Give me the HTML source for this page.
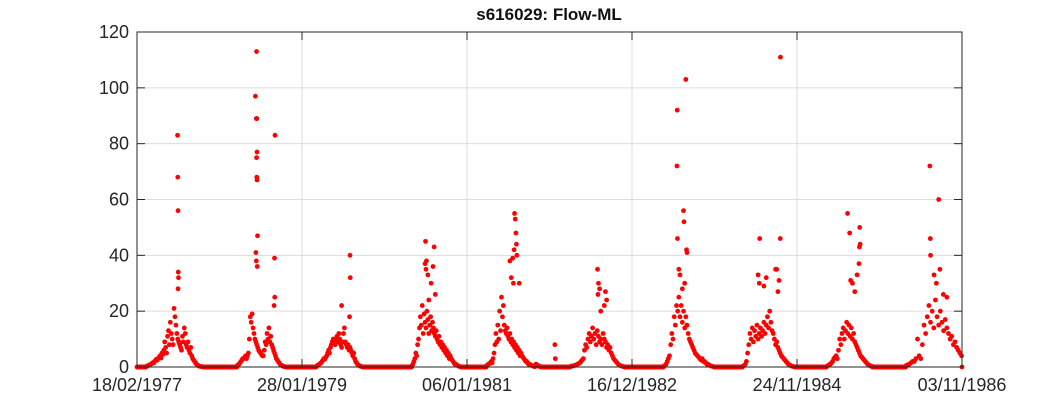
<!DOCTYPE html>
<html><head><meta charset="utf-8"><style>
body{margin:0;background:#fff;}
svg{display:block;font-family:"Liberation Sans",Arial,sans-serif;}
</style></head><body>
<svg id="chart" width="1063" height="413">
<rect width="1063" height="413" fill="#fff"/>
<g id="grid"></g>
<g id="marks"></g>
<g id="axes"></g>
<text x="549" y="20" text-anchor="middle" font-size="17" font-weight="bold" fill="#111">s616029: Flow-ML</text>
</svg>
<script>
const xTickLabels=["18/02/1977","28/01/1979","06/01/1981","16/12/1982","24/11/1984","03/11/1986"];
const xTickDays=[0,708,1416,2124,2832,3540];
const yTicks=[0,20,40,60,80,100,120];
const seasonStarts=[39,430,770,1180,1500,1860,2260,2600,2960,3300];
const seasonSteps=[4,4,4,4,4,5,5,5,5,7];
const s1=[0.2,0.3,0.5,0.6,0.8,1,1.2,1.5,1.4,2,2.2,2.8,2.5,3,3.5,4,3.2,5,4.5,6,9,7,5,11,13,8,16,12,10,8,21,18,15,12,10,9,8,7,6,11,9,14,12,8,7,9,6,5,7,4,3,2.5,2,1.5,1,0.8,0.5,0.3,0.2,0.2,0.1,0.1];
const s2=[0.5,0.8,1,1.5,2,2.5,3,3,3.5,4,3,4,5,10,18,16,19,14,12,10,9,8,7,6,5.5,5,4.5,4,4,6,9,8,12,10,14,9,11,8,7,6,5,4,3,2.5,2,1.5,1,0.7,0.5,0.3,0.2,0.1,0.1];
const s3=[0.3,0.5,0.7,1,1.2,1.5,2,2.5,3,2.8,3.5,4,5,6,5,7,8,9,10,9,8,10,11,9,12,10,8,7,9,12,14,9,8,7,8,6,7,6,5,4,5,3,2,1.5,1,0.7,0.5,0.3,0.2,0.1];
const s4=[0.5,1,2,3,5,4,8,10,14,18,15,22,12,19,16,14,20,17,12,15,18,13,16,14,12,11,13,10,9,11,8,9,7,8,6,7,5,6,4,5,3,4,3,2.5,2,1.5,1,1,0.8,0.5,0.3,0.2,0.1];
const s5=[0.5,0.7,1,1.2,1.5,2,1.5,3,5,8,12,9,15,10,20,13,25,18,22,15,13,12,14,11,10,12,9,10,8,9,7,8,6,7,5,6,4,5,4,3.5,3,2.5,2,2,1.5,1,1,0.8,0.6,0.5,0.3,0.2,0.1,1,0.8,0.5,0.3,0.2,0.1];
const s6=[0.2,0.3,0.4,0.5,0.6,0.8,1,1.2,1.5,2,2.5,3,6,8,7,10,12,9,11,14,10,12,8,13,11,9,10,8,12,10,9,7,8,6,7,5,4,3,2.5,2,1.5,1,0.7,0.5,0.3,0.2,0.1];
const s7=[0.3,0.5,1,2,3,4,8,12,10,18,15,22,20,25,18,22,16,20,14,18,15,12,10,9,8,7,6,5,4.5,4,3.5,3,2.5,3,2,2,1.5,1,1,0.7,0.5,0.3,0.2,0.1];
const s8=[0.3,0.5,1,2,5,8,12,10,14,9,13,11,15,10,12,14,11,13,16,12,15,18,14,20,16,13,12,10,8,9,7,6,5,4,3.5,3,2.5,2,1.5,1,0.8,0.5,0.3,0.2,0.1];
const s9=[0.3,0.5,0.8,1,1.5,2,3,3.5,4,3,6,10,8,12,14,10,13,16,12,15,11,14,10,12,9,8,7,6,5,4,3.5,3,2.5,2,1.5,1,0.7,0.5,0.3,0.2];
const s10=[0.5,0.8,1,1.5,2,2,3,10,4,3,8,15,12,18,22,16,20,14,24,18,15,20,16,13,17,14,12,10,11,8,9,7,6,5,4];
const seasonValues=[s1,s2,s3,s4,s5,s6,s7,s8,s9,s10];
const spikeDays=[174,175,176,177,178,176,513,508,512,514,515,513,514,515,510,512,517,516,592,590,591,588,914,915,878,912,1238,1236,1242,1240,1248,1275,1270,1262,1280,1252,1620,1623,1626,1628,1612,1618,1630,1606,1640,1600,1615,1793,1795,1976,1980,1985,1978,2010,2015,2005,1990,2318,2317,2319,2355,2345,2347,2358,2360,2325,2330,2350,2340,2761,2760,2672,2740,2745,2665,2670,2700,2690,2755,2750,3049,3058,3101,3100,3103,3098,3090,3070,3062,3080,3402,3440,3404,3405,3445,3420,3430,3460,3475];
const spikeVals=[83,68,56,34,32,28,113,97,89,89,77,75,68,67,41,38,47,36,83,39,25,22,40,32,22,18,45,37,38,35,33,43,36,30,26,24,55,53,48,44,39,42,40,32,30,38,30,8,3,35,30,28,26,27,24,22,20,92,72,46,103,56,52,42,41,35,33,30,28,111,46,46,35,35,33,30,32,29,31,27,55,48,50,43,44,37,33,30,31,27,72,60,46,40,35,33,30,26,25];

const NS="http://www.w3.org/2000/svg";
const X0=137,X1=962,Y0=367,Y1=32;
const xs=d=>X0+(d-0)/(3540)*(X1-X0);
const ys=v=>Y0-v/120*(Y0-Y1);
function mk(tag,attrs,parent){const e=document.createElementNS(NS,tag);for(const k in attrs)e.setAttribute(k,attrs[k]);parent.appendChild(e);return e;}
const grid=document.getElementById('grid'),marks=document.getElementById('marks'),axes=document.getElementById('axes');
xTickDays.forEach((d,i)=>{
  const g=mk('line',{x1:xs(d),x2:xs(d),y1:Y1,y2:Y0,stroke:'#dcdcdc','stroke-width':1},grid);
  
  
  const t=mk('line',{x1:xs(d),x2:xs(d),y1:Y0,y2:Y0-8,stroke:'#262626','stroke-width':1},axes);
  
  
  const t2=mk('line',{x1:xs(d),x2:xs(d),y1:Y1,y2:Y1+8,stroke:'#262626','stroke-width':1},axes);
  
  
  const l=mk('text',{x:xs(d),y:Y0+24,'text-anchor':'middle','font-size':18,fill:'#262626'},axes);
  l.textContent=xTickLabels[i];
  
  
});
yTicks.forEach(v=>{
  const g=mk('line',{x1:X0,x2:X1,y1:ys(v),y2:ys(v),stroke:'#dcdcdc','stroke-width':1},grid);
  
  
  const t=mk('line',{x1:X0,x2:X0+8,y1:ys(v),y2:ys(v),stroke:'#262626'},axes);
  
  
  const t2=mk('line',{x1:X1,x2:X1-8,y1:ys(v),y2:ys(v),stroke:'#262626'},axes);
  
  
  const l=mk('text',{x:X0-8,y:ys(v)+6,'text-anchor':'end','font-size':18,fill:'#262626'},axes);
  l.textContent=v;
  
  
});
const box=mk('rect',{x:X0,y:Y1,width:X1-X0,height:Y0-Y1,fill:'none',stroke:'#262626','stroke-width':1},axes);



function dot(d,v){
  const c=mk('circle',{cx:xs(d),cy:ys(v),r:2.4,fill:'#ff0000'},marks);
  
  
}
const ranges=seasonStarts.map((s,i)=>[s,s+(seasonValues[i].length-1)*seasonSteps[i]]);
for(let d=0;d<=3540;d+=2){
  if(!ranges.some(r=>d>=r[0]&&d<=r[1])) dot(d,0);
}
seasonValues.forEach((arr,i)=>{
  arr.forEach((v,j)=>dot(seasonStarts[i]+j*seasonSteps[i],v));
});
spikeDays.forEach((d,i)=>dot(d,spikeVals[i]));
</script>
</body></html>
